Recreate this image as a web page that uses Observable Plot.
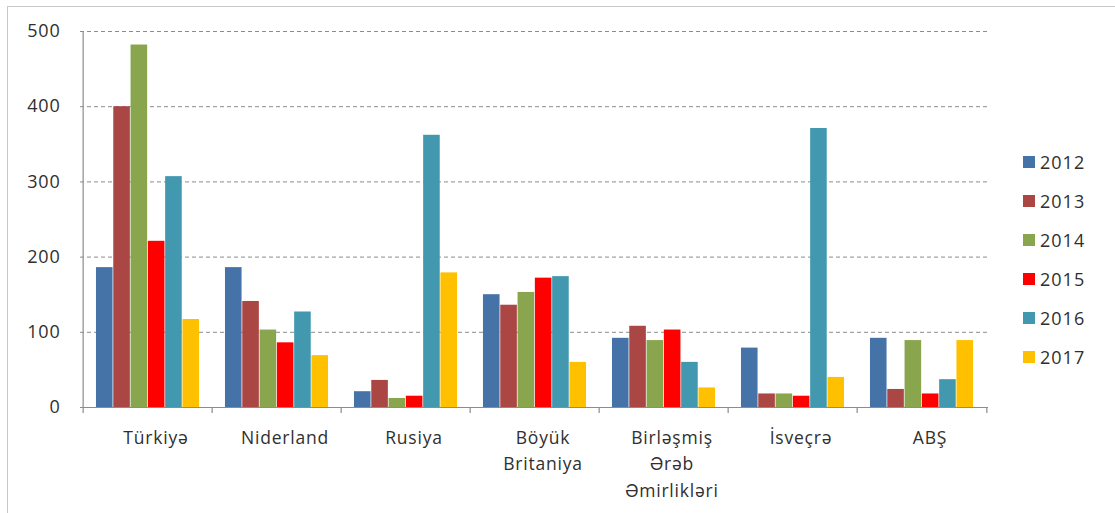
<!DOCTYPE html>
<html>
<head>
<meta charset="utf-8">
<script src="https://cdn.jsdelivr.net/npm/d3@7"></script>
<script src="https://cdn.jsdelivr.net/npm/@observablehq/plot@0.6"></script>
<style>
  html, body { margin: 0; padding: 0; background: #fff; }
  #wrap { position: relative; width: 1115px; height: 513px; overflow: hidden; font-family: "Open Sans", sans-serif; }
  #frame { position: absolute; left: 7px; top: 6px; width: 1120px; height: 520px; border: 1px solid #c8c8c8; box-sizing: border-box; pointer-events: none; }
  #chart { position: absolute; left: 0; top: 0; }
  #legend { position: absolute; left: 1023px; top: 142px; font-size: 18px; letter-spacing: 1px; color: #2f2f2f; }
  .item { height: 39px; display: flex; align-items: center; }
  .sw { width: 12px; height: 12px; margin-right: 5px; }
</style>
</head>
<body>
<div id="wrap">
  <div id="chart"></div>
  <div id="frame"></div>
  <div id="legend"></div>
</div>
<script>
const countries = ["Türkiyə", "Niderland", "Rusiya", "Böyük\nBritaniya", "Birləşmiş\nƏrəb\nƏmirlikləri", "İsveçrə", "ABŞ"];
const years = ["2012", "2013", "2014", "2015", "2016", "2017"];
const colors = ["#4572A7", "#AA4643", "#89A54E", "#FF0000", "#4198AF", "#FFC000"];
const v2012 = [186, 186, 21, 150, 92, 79, 92];
const v2013 = [400, 141, 36, 136, 108, 18, 24];
const v2014 = [482, 103, 12, 153, 89, 18, 89];
const v2015 = [221, 86, 15, 172, 103, 15, 18];
const v2016 = [307, 127, 362, 174, 60, 371, 37];
const v2017 = [117, 69, 179, 60, 26, 40, 89];
const series = [v2012, v2013, v2014, v2015, v2016, v2017];
const yTicks = [0, 100, 200, 300, 400, 500];

const data = [];
years.forEach((yr, i) => countries.forEach((c, j) => data.push({country: c, year: yr, value: series[i][j]})));

const W = 1115, H = 513;
const mL = 80, mR = 127, mT = 31, mB = 106;
const band = (W - mL - mR) / countries.length;
const outer = band * 0.1;
const barW = band * 0.8 / years.length;

const marks = [
  Plot.ruleY(yTicks.filter(t => t > 0), {stroke: "#8c8c8c", strokeWidth: 1, strokeDasharray: "4,3"}),
];
years.forEach((yr, i) => {
  marks.push(Plot.barY(data.filter(d => d.year === yr), {
    x: "country", y: "value", fill: colors[i],
    insetLeft: outer + i * barW,
    insetRight: band - outer - (i + 1) * barW
  }));
});
marks.push(Plot.ruleY([0], {stroke: "#8c8c8c", strokeWidth: 1.2}));
marks.push(Plot.ruleX([countries[0]], {x: d => d, dx: -band / 2, y1: 0, y2: 500, stroke: "#8c8c8c", strokeWidth: 1.2}));
marks.push(Plot.ruleX(countries, {x: d => d, dx: -band / 2, y1: 0, y2: -8, stroke: "#8c8c8c", strokeWidth: 1.2}));
marks.push(Plot.ruleX([countries[countries.length - 1]], {x: d => d, dx: band / 2, y1: 0, y2: -8, stroke: "#8c8c8c", strokeWidth: 1.2}));
marks.push(Plot.tickY(yTicks, {y: d => d, x: countries[0], dx: -band / 2 - 4, stroke: "#8c8c8c"}));
marks.push(Plot.axisY(yTicks, {label: null, tickSize: 0, tickPadding: 20, fontSize: 18, fill: "#2f2f2f", tickFormat: d => d}));
marks.push(Plot.axisX({label: null, tickSize: 0, tickPadding: 18, dx: 8, fontSize: 17.5, fill: "#2f2f2f", lineHeight: 1.5, tickFormat: d => d}));

const plot = Plot.plot({
  width: W, height: H,
  marginLeft: mL, marginRight: mR, marginTop: mT, marginBottom: mB,
  style: {fontFamily: "'Open Sans', sans-serif", overflow: "visible", letterSpacing: "0.8px"},
  x: {domain: countries, padding: 0, axis: null},
  y: {domain: [0, 500], axis: null},
  marks
});
document.getElementById("chart").appendChild(plot);

const lg = document.getElementById("legend");
years.forEach((yr, i) => {
  const it = document.createElement("div");
  it.className = "item";
  it.innerHTML = `<span class="sw" style="background:${colors[i]}"></span><span>${yr}</span>`;
  lg.appendChild(it);
});
</script>
</body>
</html>
